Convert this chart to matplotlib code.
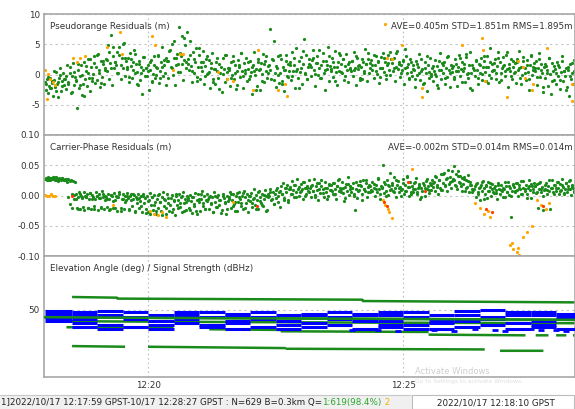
import numpy as np
import matplotlib
matplotlib.use("Agg")
import matplotlib.pyplot as plt
from matplotlib.patches import Rectangle

plt.rcParams['font.family'] = ['DejaVu Sans']

# time axis in minutes after 12:00 (GPST)
t_start = 17.98
t_step = 0.02          # 1.2 s between plotted residuals
t_start2 = 17.99
t_step2 = 0.04         # second satellite group
x_range = (17.96, 28.37)
x_ticks = [20, 25]
x_labels = ["12:20", "12:25"]

# pseudorange residuals (m), green = fixed
pr_green = [
    -1.2, -2.5, -0.8, -3.1, -1.9, -0.5, -2.2, -1.4, -3.6, -0.9,
    -2.0, 0.4, -1.5, -3.8, -0.6, 1.1, -2.7, -1.1, 0.2, -1.8,
    -0.7, -2.4, 1.6, -1.3, 0.3, -3.1, -0.2, 1.9, -1.7, -0.4,
    -1.0, -5.6, 0.8, -2.2, -0.3, 1.5, -3.4, -1.6, 2.1, -0.8,
    0.5, -1.9, 2.6, -0.6, -2.8, 1.2, -1.1, 0.1, 3.0, -1.4,
    1.3, -0.9, 3.4, 0.2, -2.1, 2.2, -0.4, 1.8, -1.6, 0.7,
    2.5, 0.6, 4.8, -0.8, 1.9, 6.6, -1.7, 3.1, 1.0, 2.0,
    1.6, 3.7, 0.2, 4.5, -0.7, 2.8, 1.1, 5.2, -0.2, 2.3,
    0.9, 2.7, -1.2, 3.6, 1.4, -0.5, 2.0, 4.1, 0.3, 1.7,
    0.4, -1.8, 2.2, -0.9, 1.3, -3.2, 0.8, 2.9, -0.3, 1.0,
    -0.2, 1.5, -2.6, 0.7, 2.4, -1.0, 0.1, 3.1, -0.6, 1.2,
    1.0, 3.3, -1.4, 0.5, 2.1, 4.6, -0.3, 1.6, 0.2, 2.8,
    2.2, -0.6, 3.9, 1.2, 5.1, 0.0, 2.7, -1.7, 1.5, 3.4,
    1.8, 7.8, 0.4, 3.0, 6.4, -0.9, 2.4, 4.9, 1.1, 7.1,
    2.6, 0.7, 5.5, 1.4, -1.3, 3.8, 0.2, 2.1, 4.4, -0.4,
    1.2, 3.2, -0.8, 2.0, 0.5, 3.9, -1.6, 1.4, 2.6, 0.1,
    0.3, 2.4, -2.3, 1.0, 3.6, -0.7, 0.9, -1.5, 2.0, 0.6,
    -0.5, 1.7, 0.2, -2.9, 2.8, 0.9, -1.2, 3.3, 0.4, 1.1,
    0.8, -1.9, 2.1, 0.0, 3.0, -0.8, 1.5, -2.4, 0.6, 2.4,
    1.3, -0.4, 3.5, 0.5, -2.2, 1.9, 0.3, 2.7, -1.0, 0.9,
    -0.8, 2.2, 0.4, -3.3, 1.6, 3.8, -0.1, 0.9, -1.9, 2.5,
    0.7, -2.6, 1.9, 0.1, 3.4, -1.2, 2.3, 0.5, -0.6, 1.4,
    1.6, 7.6, -0.7, 2.4, 5.6, 0.2, -2.0, 1.0, 3.1, -1.4,
    0.2, 2.6, -1.1, 1.3, -2.7, 0.8, 3.2, -0.3, 1.7, 0.5,
    2.0, -0.9, 3.7, 0.6, 1.5, -2.2, 4.3, 0.9, -0.5, 2.3,
    0.4, 2.9, -1.6, 1.8, 5.8, 0.1, 3.3, -0.8, 1.2, 2.6,
    1.5, -0.3, 2.4, 4.1, 0.7, -1.9, 1.9, 3.0, 0.0, 1.1,
    -0.6, 1.6, 3.5, 0.3, -2.5, 2.2, 0.9, 4.6, -1.1, 1.4,
    0.9, 2.8, -0.4, 1.2, 3.9, 0.4, -1.7, 2.1, 0.6, 3.2,
    1.8, 0.2, 2.5, -0.9, 1.4, 3.4, 0.7, -1.3, 2.0, 1.0,
    0.5, 2.3, -0.2, 3.8, 1.1, -1.8, 2.7, 0.9, 1.6, -0.6,
    1.3, -0.7, 2.0, 0.6, 4.2, 1.7, -1.1, 2.5, 0.3, 1.9,
    2.4, 0.8, -0.5, 1.5, 3.1, 0.1, 2.2, -1.4, 1.0, 2.9,
    1.1, 3.6, 0.4, 2.0, -0.8, 1.6, 3.2, 0.7, -0.1, 2.6,
    1.9, 0.5, 2.8, -1.0, 1.3, 3.9, 0.9, 2.1, -0.4, 1.5,
    0.7, 2.4, -1.6, 1.0, 3.0, 0.2, 1.8, -0.7, 2.6, 0.4,
    -0.3, 1.5, 0.8, -2.1, 2.3, 0.0, 1.2, 3.4, -0.9, 0.6,
    0.9, -1.4, 2.0, 0.3, -2.8, 1.6, -0.5, 2.7, 0.1, 1.1,
    -1.1, 0.6, 2.4, -0.2, 1.4, -2.3, 0.8, 3.6, -0.7, 1.9,
    0.2, 2.1, -1.5, 1.0, -0.4, 3.0, 0.7, -2.0, 1.6, 0.4,
    1.4, -0.8, 2.6, 0.5, -1.9, 1.2, 3.3, -0.2, 0.9, 2.0,
    0.6, 1.8, -1.2, 2.9, 0.1, -0.6, 1.5, 3.8, 0.3, -2.6,
    1.0, -0.3, 2.2, 0.8, -1.6, 1.7, 0.2, 2.8, -0.9, 1.3,
    2.3, 0.4, -1.0, 3.1, 1.2, 0.0, 4.4, -0.5, 1.8, 0.7,
    0.8, 2.6, -0.7, 1.4, 3.7, -1.3, 2.0, 0.3, 1.1, 2.9,
    1.6, -0.2, 3.2, 0.9, -2.1, 1.8, 0.5, 2.5, -0.8, 1.2,
    0.3, 1.9, -1.4, 2.6, 0.7, 3.9, -0.5, 1.3, 0.0, 2.2,
    1.1, -0.9, 2.4, 0.4, -2.6, 1.6, 3.0, -0.1, 0.8, 1.9,
    0.5, 2.2, -1.8, 1.0, 3.5, -0.4, 1.7, 0.2, -2.9, 1.3,
    -0.6, 1.4, 0.8, -1.9, 2.7, 0.1, -3.2, 1.9, 0.5, -0.9,
    0.9, -1.5, 2.0, -0.3, 1.2, -2.4, 0.4, 3.1, -1.0, 0.6,
    -0.2, 1.1, -2.0, 0.7, -3.6, 1.8, -0.8, 0.3, -1.6, 2.4,
]
pr_green2 = [
    -1.6, -0.4, -2.3, -1.0, 0.6, -2.8, -1.3, -0.1, -1.9, -0.7,
    -0.2, -1.5, 1.2, -2.9, 0.4, -0.9, 1.8, -1.8, 0.0, -3.5,
    1.4, 0.2, 2.6, -0.6, 1.9, 3.3, 0.7, -1.4, 2.2, 1.0,
    2.4, 3.8, 1.1, 4.6, 2.0, 0.3, 3.2, 1.6, 5.0, 2.7,
    1.3, -0.4, 2.5, 0.8, 3.4, -1.6, 1.8, 0.2, 2.9, 1.0,
    0.6, 2.1, -1.2, 1.5, 0.0, 3.0, -0.6, 1.2, 2.4, -1.8,
    2.3, 4.1, 1.0, 5.6, 2.8, 0.4, 3.6, 1.7, 6.0, 2.0,
    1.8, 3.3, 0.5, 2.6, -1.0, 4.4, 1.2, 2.0, -0.3, 3.0,
    0.4, 1.9, -1.3, 0.9, 2.8, -2.4, 1.3, 0.1, 3.2, -0.7,
    1.0, -0.5, 2.3, 0.3, -1.8, 1.6, 3.5, -0.2, 0.8, 2.0,
    -0.3, 1.2, 0.6, -2.6, 2.1, 0.9, -1.1, 1.7, 3.0, 0.2,
    0.8, 2.5, -0.9, 1.4, 0.0, 3.3, -1.6, 0.7, 2.2, -0.4,
    1.5, -0.2, 2.7, 0.6, -2.2, 1.1, 3.9, 0.3, -0.8, 1.8,
    1.2, 2.8, 0.1, 1.9, 4.0, -0.6, 2.3, 0.8, 1.5, 3.1,
    0.6, 2.0, -1.0, 1.3, 3.5, 0.4, 2.6, -0.3, 1.7, 0.9,
    2.2, 0.7, 3.0, 1.4, -0.9, 2.5, 0.2, 1.8, 3.6, 1.0,
    1.6, 3.2, 0.5, 2.1, -0.4, 1.1, 2.8, 0.0, 1.9, 3.8,
    2.6, 1.0, 3.5, 1.7, 0.3, 2.3, 4.2, 1.2, -0.6, 2.0,
    0.9, -0.7, 1.8, 0.2, 2.6, -1.5, 1.1, 3.1, 0.4, -0.2,
    1.4, 0.1, -1.8, 2.2, 0.7, 1.6, -0.5, 2.9, 0.3, 1.0,
    -0.4, 1.7, 0.6, 2.7, -1.2, 1.0, 3.4, 0.2, -2.3, 1.5,
    0.8, 2.4, -0.6, 1.5, 0.1, 3.0, 1.2, -1.4, 2.0, 0.5,
    1.9, 0.3, 2.8, -0.9, 1.4, 0.6, 3.7, 1.1, -0.3, 2.3,
    0.4, 2.1, 1.0, -1.6, 2.9, 0.2, 1.5, -0.8, 3.3, 1.2,
    1.0, -0.4, 2.5, 0.7, -2.0, 1.8, 0.3, 2.7, -1.1, 1.4,
    0.2, 1.6, -0.9, 2.2, 0.5, -2.5, 1.3, -0.2, 1.9, 0.6,
]

# pseudorange residuals, orange = float
pr_orange_t = [17.98, 18.02, 18.04, 18.08, 18.14, 18.18, 18.53, 18.61, 18.67, 18.76,
               19.20, 19.45, 19.49, 20.08, 20.14, 20.49, 20.63, 20.69, 21.37, 21.55,
               21.67, 22.06, 22.16, 22.55, 22.69, 22.72, 24.65, 24.69, 24.78, 24.98,
               25.37, 25.37, 26.16, 26.55, 26.57, 26.61, 27.04, 27.25, 27.35, 27.39,
               27.53, 27.55, 27.82, 28.31, 28.31]
pr_orange_v = [0.7, -4.0, 0.1, -0.7, -1.3, -1.8, 2.8, 2.0, 2.8, 3.1,
               4.5, 7.0, 3.4, 6.4, 4.8, 0.7, 3.4, 3.4, 0.4, -0.7,
               -1.0, -2.6, 4.0, -2.6, -1.5, -3.5, 8.4, 2.8, 2.6, 4.8,
               -3.8, -2.3, 4.8, 6.1, 4.0, -1.0, -3.8, 2.3, 1.2, -0.5,
               -2.6, -1.5, 4.3, -4.3, -1.5]

# carrier-phase residuals (mm), green = fixed
cp_green_mm = [
    27, 29, 25, 30, 28, 26, 29, 27, 31, 28,
    26, 30, 28, 24, 29, 27, 25, 29, 28, 26,
    25, 28, 23, 27, -14, 26, 2, 24, -5, 22,
    3, -20, -2, 6, -22, 0, -4, -19, 5, -1,
    -3, 2, -21, -6, 4, -23, 1, -2, -18, -5,
    5, -1, -24, 2, -4, -20, 7, -3, -22, 0,
    -2, -19, 3, -6, -23, 1, -1, -21, 4, -7,
    0, -25, -3, 6, -20, -5, 2, -22, -1, -8,
    4, -4, -24, -1, 3, -18, -6, 1, -26, -3,
    -6, 2, -21, -9, 0, -27, 3, -12, -4, -23,
    -1, -28, -8, 4, -15, -3, -24, 1, -10, -30,
    -5, -20, 2, -11, -26, -2, 6, -17, -7, -31,
    3, -13, -25, -4, 1, -22, -9, -33, 0, -16,
    -8, 2, -19, -3, -27, 5, -12, -6, -24, -1,
    -4, -21, 1, -9, -29, -2, -14, 4, -25, -7,
    2, -11, -26, -5, 7, -18, -1, -23, -8, 3,
    -6, -22, 0, -13, -3, -28, 5, -10, -19, -2,
    1, -16, -7, -24, 3, -4, -12, -30, 0, -9,
    -3, 6, -20, -8, 2, -14, -26, -1, 4, -11,
    5, -6, -17, 0, -23, 8, -3, -12, 2, -27,
    -1, -9, 4, -19, -5, 10, -15, 1, -7, -22,
    7, -3, -12, 3, -18, -6, 9, -1, -24, 2,
    0, 11, -8, 5, -14, 2, -4, 13, -10, 6,
    8, 15, 2, 21, -4, 12, 5, 18, -7, 10,
    14, 3, 24, 9, -2, 17, 6, 27, 11, 0,
    5, 19, 10, -6, 22, 13, 2, 16, 8, 25,
    12, -3, 18, 7, 28, 1, 15, 9, -8, 20,
    4, 16, 10, -2, 23, 6, 13, -1, 19, 9,
    17, 8, 2, 21, 11, -5, 15, 26, 7, 12,
    10, 23, 4, -9, 14, 19, 8, 30, 1, 16,
    6, 13, 20, 3, -24, 11, -4, 18, 9, 24,
    15, 2, 26, 10, 7, 21, -2, 14, 17, 5,
    9, 22, 12, 0, 18, 6, 28, 11, -5, 15,
    13, 51, 4, 19, 8, 25, 1, 16, 38, 10,
    20, 7, 31, 12, -3, 17, 24, 5, 14, 9,
    11, 27, 3, 18, 8, 33, 14, -1, 22, 6,
    16, 5, 21, 10, 29, 2, 13, 19, -6, 12,
    8, 18, 0, 24, 11, 15, 4, 20, 9, 26,
    14, 22, 7, 30, 17, 3, 25, 12, 35, 9,
    21, 38, 15, 27, 8, 42, 19, 31, 12, 24,
    28, 48, 18, 36, 10, 40, 23, 33, 15, 29,
    19, 30, 8, 25, 14, 34, 5, 22, 17, 11,
    9, 16, -2, 20, 5, 13, -8, 18, 7, 24,
    12, 3, 17, -4, 22, 8, 14, 0, 19, 6,
    4, 15, 9, -6, 20, 11, 2, 17, 7, 13,
    10, -3, 16, 6, 22, 1, 13, -35, 8, 19,
    14, 5, 20, 9, -1, 17, 11, 24, 3, 12,
    7, 18, 2, 13, 25, 9, -4, 16, 11, 21,
    15, 4, 19, -20, 10, 23, 6, 14, -24, 9,
    11, 20, 3, 16, 8, -22, 13, 26, 5, 18,
    17, 7, 22, 12, 2, 19, 9, 27, 14, 4,
    10, 21, 6, 16, 24, 11, 1, 18, 13, 8,
]
cp_green2_mm = [
    28, 26, 29, 27, 30, 25, 28, 27, 29, 26,
    27, -2, 24, -20, 1, -5, -22, 3, -3, -24,
    -2, -21, 4, -6, -23, 0, -4, -19, 2, -8,
    -5, -24, 1, -9, -20, -2, 3, -26, -6, -11,
    -1, -22, -7, 2, -27, -12, -4, -18, 0, -29,
    -9, -30, -3, -15, -25, 1, -11, -33, -6, -20,
    -4, -16, -28, -8, 2, -21, -13, -1, -26, -10,
    -7, -24, -2, -17, -31, -5, 3, -12, -22, -9,
    -3, -14, -27, 0, -19, -8, -29, -1, -11, -23,
    -6, 2, -18, -10, -25, -3, -13, 4, -21, -7,
    0, -12, -4, -22, 5, -9, -16, 1, -26, -2,
    6, -5, -14, 9, -1, -19, 3, -8, 12, -11,
    10, 3, 18, -3, 14, 7, 22, 0, 12, 5,
    16, 8, -2, 20, 11, 25, 4, 13, -6, 18,
    9, 21, 2, 15, 27, 6, 12, -4, 19, 10,
    13, 0, 23, 8, 17, -7, 11, 26, 5, 15,
    7, 19, 11, 29, 3, 14, 22, -1, 17, 9,
    18, 5, 25, 12, 0, 20, 8, 30, 14, 3,
    11, 23, 6, 16, -3, 21, 13, 27, 9, 18,
    20, 32, 14, 26, 9, 36, 17, 29, 22, 41,
    25, 15, 33, 20, 8, 28, 12, 24, 18, 6,
    10, 19, 2, 14, 23, -5, 16, 7, 21, 11,
    13, 4, 18, 9, -2, 22, 6, 15, 0, 17,
    8, 20, 12, 3, 24, 10, -4, 16, 19, 6,
    15, 5, 21, 11, -1, 18, 9, 25, 13, 2,
    12, 22, 7, 17, 3, 20, 10, 26, 14, 6,
]

cp_orange_t = [17.98, 18.02, 18.06, 18.10, 18.14, 18.18, 19.31, 20.04, 20.12, 20.20,
               20.28, 20.36, 21.67, 24.60, 24.65, 24.70, 24.72, 24.78, 25.18, 26.41,
               26.50, 26.58, 26.66, 26.70, 27.10, 27.14, 27.16, 27.23, 27.25, 27.28,
               27.35, 27.43, 27.53, 27.63, 27.70, 27.80, 27.86]
cp_orange_mm = [1, 0, -1, 2, 0, -1, -15, -25, -30, -33,
                -28, -35, -10, -8, -15, -22, -28, -38, 43, -12,
                -20, -30, -26, -35, -82, -78, -89, -94, -86, -99,
                -68, -61, -51, -8, -15, -22, -12]
cp_red_t = [18.51, 22.14, 24.62, 24.68, 25.10, 25.43, 26.62, 26.74, 27.75]
cp_red_mm = [0, -18, -10, -18, 23, 7, -22, -28, -18]

# elevation angle (deg), one satellite per line, nan = no data
nan = np.nan
el_t = [
    [18.51, 19.39, 19.40, 24.20, 24.21, 28.40],
    [17.98, 20.0, 23.0, 26.0, 28.40],
    [18.40, 21.0, 24.0, 28.40],
    [18.40, 20.5, nan, 21.2, 22.6, nan, 22.6, 25.5, nan, 25.5, 27.4,
     nan, 27.6, 27.85, nan, 28.0, 28.2, nan, 28.33, 28.40],
    [18.51, 19.55, nan, 20.0, 22.7, nan, 22.7, 26.6, nan, 26.9, 27.75],
]
el_deg = [
    [59.5, 59.0, 58.3, 57.5, 56.5, 55.5],
    [44.5, 44.0, 43.5, 43.0, 42.5],
    [41.5, 41.0, 40.5, 40.0],
    [37.0, 36.5, nan, 35.5, 35.0, nan, 34.0, 33.5, nan, 31.5, 31.0,
     nan, 31.0, 31.0, nan, 31.0, 31.0, nan, 31.0, 31.0],
    [23.0, 22.5, nan, 22.5, 21.5, nan, 21.0, 20.5, nan, 19.5, 19.5],
]

# signal strength (dBHz), value held until next time, nan = gap
snr_t = [17.98, 18.5, 19.0, 19.5, 20.0, 20.5, 21.0, 21.5, 22.0, 22.5, 23.0,
         23.5, 24.0, 24.5, 25.0, 25.5, 26.0, 26.5, 27.0, 27.5, 28.0, 28.4]
snr_dbhz = [
    [49, 48, 49, 48, nan, 48, 48, 47, 48, nan, 47, 48, 47, 48, 48, nan, 49, 50, 48, 48, 47],
    [47, 46, 46, 45, 46, 46, 45, 46, 45, 46, 46, 45, 46, 46, 45, 46, 46, 45, 46, 46, 45],
    [45, 43, nan, 43, 42, 43, nan, 42, 43, 42, nan, 43, 42, 42, nan, 42, 42, 43, nan, 42, 43],
    [44, 40, 39, nan, 39, 40, 39, 40, nan, 39, 40, 39, nan, 39, 39, 40, nan, 39, 40, 39, nan],
    [42, 37, 36, 37, 36, nan, 37, 36, 37, 36, 37, nan, 36, 37, 36, 36, 37, nan, 36, 37, 36],
]
snr_low_t = [24.0, 24.2, 24.5, 24.9, 25.3, 25.6, 26.0, 26.4, 26.8, 27.0, 27.5, 27.7, 28.0, 28.2]
snr_low = [35, 36, 35, 34, 36, 35, 34, 36, 35, 34, 36, 35, 35, 34]

GREEN = "#1a8a1a"
ORANGE = "#ffa500"
RED = "#ff3c00"
BLUE = "#0000ff"
FRAME = "#a8a8a8"
TXT = "#333333"

W, H = 575, 409
fig = plt.figure(figsize=(W / 100, H / 100), dpi=100)
fig.patch.set_facecolor("white")


def panel(top, bottom):
    ax = fig.add_axes([44 / W, (H - bottom) / H, (W - 44) / W, (bottom - top) / H])
    ax.set_xlim(*x_range)
    for s in ax.spines.values():
        s.set_color(FRAME)
        s.set_linewidth(1.2)
    ax.tick_params(length=0, labelsize=6.3, labelcolor=TXT, pad=3)
    ax.set_xticks(x_ticks)
    ax.set_xticklabels([])
    ax.grid(axis="y", ls=(0, (2, 3)), color="#c4c4c4", lw=0.8)
    ax.grid(axis="x", ls=(0, (1.5, 2.5)), color="#b4c0cc", lw=0.8)
    ax.set_axisbelow(True)
    return ax


ax1 = panel(14, 135)
ax2 = panel(135, 256)
ax3 = panel(256, 377)
MS = 2.3

# pseudorange
pr_t = t_start + t_step * np.arange(len(pr_green))
pr_t2 = t_start2 + t_step2 * np.arange(len(pr_green2))
ax1.plot(pr_t, pr_green, "o", ms=MS, mew=0, color=GREEN)
ax1.plot(pr_t2, pr_green2, "o", ms=MS, mew=0, color=GREEN)
ax1.plot(pr_orange_t, pr_orange_v, "o", ms=MS, mew=0, color=ORANGE)
ax1.set_ylim(-10, 10)
ax1.set_yticks([-5, 0, 5, 10])
ax1.set_yticklabels(["-5", "0", "5", "10"])
ax1.text(0.012, 0.9, "Pseudorange Residuals (m)", transform=ax1.transAxes,
         fontsize=6.3, color=TXT, va="center")
ax1.text(0.995, 0.9, "AVE=0.405m STD=1.851m RMS=1.895m", transform=ax1.transAxes,
         fontsize=6.3, color=TXT, va="center", ha="right")

# carrier phase
cp_t = t_start + t_step * np.arange(len(cp_green_mm))
cp_t2 = t_start2 + t_step2 * np.arange(len(cp_green2_mm))
ax2.plot(cp_t, np.array(cp_green_mm) / 1000, "o", ms=MS, mew=0, color=GREEN)
ax2.plot(cp_t2, np.array(cp_green2_mm) / 1000, "o", ms=MS, mew=0, color=GREEN)
ax2.plot(cp_orange_t, np.array(cp_orange_mm) / 1000, "o", ms=MS, mew=0, color=ORANGE)
ax2.plot(cp_red_t, np.array(cp_red_mm) / 1000, "o", ms=MS, mew=0, color=RED)
ax2.set_ylim(-0.1, 0.1)
ax2.set_yticks([-0.1, -0.05, 0, 0.05, 0.1])
ax2.set_yticklabels(["-0.10", "-0.05", "0.00", "0.05", "0.10"])
ax2.text(0.012, 0.9, "Carrier-Phase Residuals (m)", transform=ax2.transAxes,
         fontsize=6.3, color=TXT, va="center")
ax2.text(0.995, 0.9, "AVE=-0.002m STD=0.014m RMS=0.014m", transform=ax2.transAxes,
         fontsize=6.3, color=TXT, va="center", ha="right")

# elevation / snr
for tt, vv in zip(el_t, el_deg):
    ax3.plot(tt, vv, color=GREEN, lw=1.8, solid_capstyle="butt", zorder=2)
for vv in snr_dbhz:
    ax3.hlines(vv, snr_t[:-1], snr_t[1:], color=BLUE, lw=2.2, zorder=3)
ax3.plot(snr_low_t, snr_low, "_", ms=5, mew=2.0, color=BLUE, zorder=3)
ax3.plot(el_t[1], el_deg[1], color=GREEN, lw=1.8, zorder=4)
ax3.set_ylim(0, 90)
ax3.set_yticks([50])
ax3.set_yticklabels(["50"])
ax3.set_xticklabels(x_labels)
ax3.text(0.012, 0.9, "Elevation Angle (deg) / Signal Strength (dBHz)",
         transform=ax3.transAxes, fontsize=6.3, color=TXT, va="center")

# watermark
fig.text(415 / W, (H - 371) / H, "Activate Windows", fontsize=6.0, color="#cfcfcf", va="center")
fig.text(415 / W, (H - 381) / H, "Go to Settings to activate Windows.", fontsize=4.3,
         color="#dedede", va="center")

# status bar
fig.patches.append(Rectangle((0, 0), 1, 14 / H, transform=fig.transFigure,
                             facecolor="#f0f0f0", edgecolor="none", zorder=0))
fig.patches.append(Rectangle((412 / W, 0), (W - 413) / W, 14 / H, transform=fig.transFigure,
                             facecolor="white", edgecolor="#bcbcbc", lw=0.8, zorder=1))
fig.add_artist(plt.Line2D([0, 410 / W], [14.5 / H, 14.5 / H], color="#c8c8c8", lw=0.8))

sy = 6.5 / H
parts = [("1]2022/10/17 12:17:59 GPST-10/17 12:28:27 GPST : N=629 B=0.3km Q=", "#222222"),
         ("1:619(98.4%)", "#2aa52a"), (" 2", "#f0b400")]
renderer = fig.canvas.get_renderer()
xpos = 1 / W
for s, c in parts:
    t = fig.text(xpos, sy, s, fontsize=6.35, color=c, va="center", ha="left")
    bb = t.get_window_extent(renderer)
    xpos = bb.x1 / W
fig.text(496 / W, sy, "2022/10/17 12:18:10 GPST", fontsize=6.35, color="#222222",
         va="center", ha="center")

fig.savefig("out.png", dpi=100)
